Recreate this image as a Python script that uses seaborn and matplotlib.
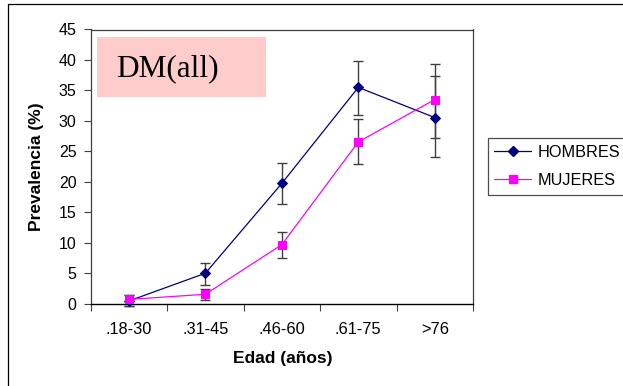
import numpy as np
import pandas as pd
import matplotlib
matplotlib.use("Agg")
import matplotlib.pyplot as plt
from matplotlib.lines import Line2D
from matplotlib.patches import Rectangle
import seaborn as sns

categories = ['.18-30', '.31-45', '.46-60', '.61-75', '>76']
hombres = [0.45, 5.0, 19.75, 35.5, 30.55]
hombres_lo = [-0.4, 3.05, 16.4, 31.05, 24.05]
hombres_hi = [1.35, 6.75, 23.15, 39.85, 37.35]
mujeres = [0.7, 1.55, 9.7, 26.55, 33.5]
mujeres_lo = [-0.4, 0.55, 7.5, 22.9, 27.25]
mujeres_hi = [1.35, 2.35, 11.75, 30.25, 39.4]
series_names = ['HOMBRES', 'MUJERES']
yticks = [0, 5, 10, 15, 20, 25, 30, 35, 40, 45]

sns.set_style("white")
plt.rcParams['font.family'] = ['Liberation Sans', 'DejaVu Sans']
plt.rcParams['text.color'] = 'black'
plt.rcParams['xtick.color'] = 'black'
plt.rcParams['ytick.color'] = 'black'

navy = '#000080'
magenta = '#FF00FF'

df = pd.DataFrame({
    'Edad': categories * 2,
    'Prevalencia': hombres + mujeres,
    'Sexo': [series_names[0]] * 5 + [series_names[1]] * 5,
})

fig = plt.figure(figsize=(6.23, 3.86), dpi=100)
ax = fig.add_axes([90.7 / 623, 1 - 303.7 / 386, (473 - 90.7) / 623, (303.7 - 29.5) / 386])

# Error bars
for vals, lo, hi in [(hombres, hombres_lo, hombres_hi), (mujeres, mujeres_lo, mujeres_hi)]:
    v = np.array(vals)
    err = [v - np.array(lo), np.array(hi) - v]
    eb = ax.errorbar(categories, v, yerr=err, fmt='none', ecolor='#404040',
                     elinewidth=1.0, capsize=3.6, capthick=1.0, zorder=2)
    for art in list(eb.lines[1]) + list(eb.lines[2]):
        art.set_clip_on(False)

n_before = len(ax.lines)
sns.lineplot(data=df, x='Edad', y='Prevalencia', hue='Sexo', style='Sexo',
             palette={'HOMBRES': navy, 'MUJERES': magenta},
             markers={'HOMBRES': 'D', 'MUJERES': 's'}, dashes=False,
             sort=False, linewidth=0.9, markersize=6, ax=ax, zorder=3,
             legend=False)
for ln in ax.lines[n_before:]:
    ln.set_markeredgecolor(ln.get_color())
    if ln.get_marker() == 'D':
        ln.set_markersize(5.5)
    ln.set_clip_on(False)

ax.set_xlim(-0.5, 4.5)
ax.set_ylim(0, 45)
ax.set_yticks(yticks)
ax.set_yticklabels([str(t) for t in yticks], fontsize=11.5)
ax.set_xticks(np.arange(-0.5, 5.0, 1.0))
ax.set_xticklabels([''] * 6)
ax.set_xticks(range(5), minor=True)
ax.set_xticklabels(categories, minor=True, fontsize=11.8)
ax.tick_params(axis='x', which='major', direction='out', length=5, width=0.8,
               color='#404040', bottom=True)
ax.tick_params(axis='x', which='minor', length=0, pad=13)
ax.tick_params(axis='y', direction='out', length=4.8, width=0.8, color='#404040',
               pad=5.5, left=True)

for s in ['left', 'top', 'right']:
    ax.spines[s].set_color('#404040')
    ax.spines[s].set_linewidth(0.9)
ax.spines['bottom'].set_color('black')
ax.spines['bottom'].set_linewidth(1.0)

ax.set_xlabel('')
ax.set_ylabel('')
fig.text(283 / 623, 1 - 359 / 386, 'Edad (años)', fontsize=12.5, fontweight='bold',
         ha='center', va='center')
fig.text(37 / 623, 1 - 166.5 / 386, 'Prevalencia (%)', fontsize=12.5, fontweight='bold',
         ha='center', va='center', rotation=90)

# Title box
fig.patches.append(Rectangle((96.7 / 623, 1 - 96.7 / 386), (265.7 - 96.7) / 623,
                             (96.7 - 37.3) / 386, transform=fig.transFigure,
                             facecolor='#FFCCCC', edgecolor='none', zorder=5))
fig.text(116.5 / 623, 1 - 69 / 386, 'DM(all)', fontsize=22.5, color='black',
         family=['Liberation Serif', 'DejaVu Serif'], ha='left', va='center', zorder=6)

# Figure border
fig.patches.append(Rectangle((8 / 623, -0.1), 1.2, (1 - 3.5 / 386) + 0.1,
                             transform=fig.transFigure, fill=False,
                             edgecolor='black', linewidth=0.9))

handles = [Line2D([], [], color=navy, marker='D', markersize=5.5, markeredgecolor=navy, linewidth=0.9),
           Line2D([], [], color=magenta, marker='s', markersize=6, markeredgecolor=magenta, linewidth=0.9)]
leg = fig.legend(handles, series_names, loc='upper left',
                 bbox_to_anchor=(487.5 / 623, 1 - 138.3 / 386), fontsize=11.7,
                 frameon=True, fancybox=False, edgecolor='#202020',
                 handlelength=2.27, handletextpad=0.4, labelspacing=0.8,
                 borderpad=0.42, borderaxespad=0)
leg.get_frame().set_linewidth(0.9)

fig.savefig('out.png', dpi=100)
